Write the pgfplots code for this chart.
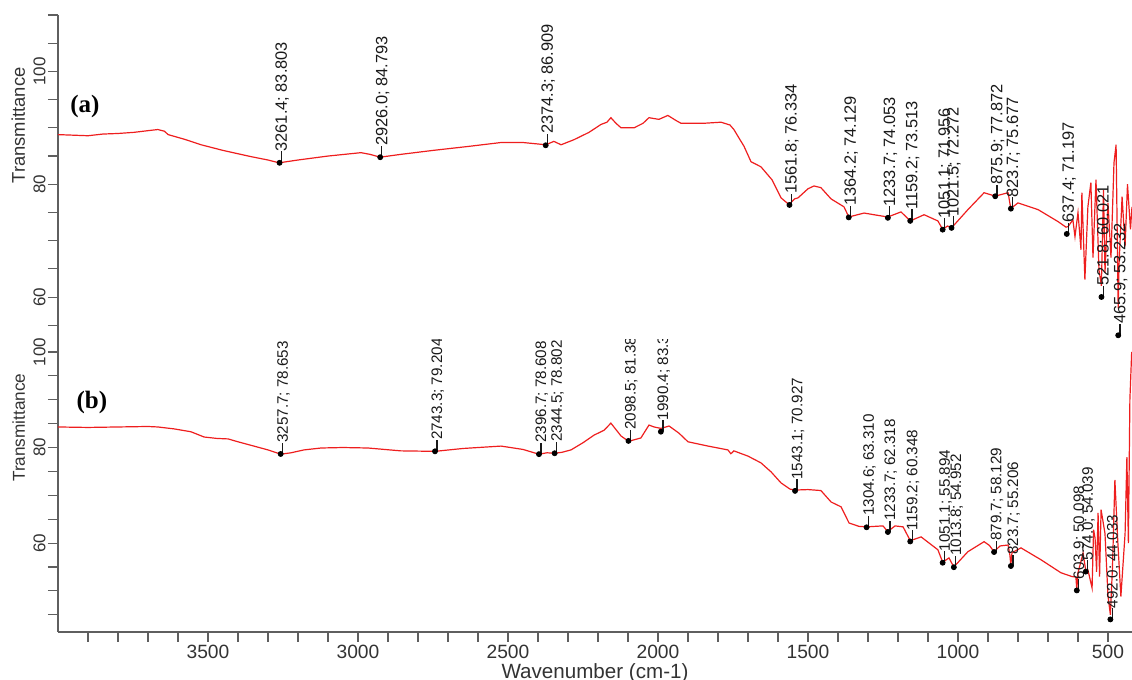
\documentclass[border=0pt]{standalone}
\usepackage{fontspec}
\setmainfont{Liberation Sans}
\newfontfamily\seriffam{Liberation Serif}
\usepackage{pgfplots}
\pgfplotsset{compat=1.18}

\definecolor{spec}{RGB}{238,30,30}
\definecolor{axgray}{RGB}{95,95,95}

\pgfplotsset{
 ftir/.style={
  scale only axis, width=537pt,
  x dir=reverse, xmin=420, xmax=4000,
  axis line style={axgray, line width=0.6pt},
  x axis line style={-}, y axis line style={-},
  tick style={axgray, line width=0.6pt},
  tick align=outside,
  major tick length=5pt, minor tick length=5pt,
  ytick={60,80,100},
  yticklabel style={rotate=90, anchor=south, inner sep=1pt, font=\fontsize{8.5}{9}\selectfont, text=black!80},
  /pgf/number format/assume math mode=true,
  /pgf/number format/1000 sep={},
  ylabel={Transmittance},
 },
 specline/.style={spec, line width=0.6pt, no markers},
 pk/.style={only marks, mark=*, mark size=1.25pt, black},
}
\tikzset{lab/.style={rotate=90, anchor=west, inner sep=0pt,
     font=\fontsize{8.2}{9}\selectfont, text height=0.72em, text depth=0pt, text=black!90},
  labb/.style={lab, font=\fontsize{7.6}{8.5}\selectfont}}
\newcommand{\ld}{\raisebox{0.3em}{\rule{5.5pt}{0.6pt}}}
\newcommand{\pk}[3]{\node[lab] at (axis cs:#1,#2) {\ld #3};}
\newcommand{\pkb}[3]{\node[labb] at (axis cs:#1,#2) {\ld #3};}

\begin{document}
\begin{tikzpicture}
\useasboundingbox (0,0) rectangle (566pt,340pt);

% ---------------- panel (a)
\begin{axis}[ftir, at={(29pt,170pt)}, anchor=south west, height=162.5pt,
  ymin=52.4, ymax=110,
  axis x line=none, axis y line*=left,
  minor ytick={55,65,70,75,85,90,95,105,110},
  ylabel style={at={(ticklabel cs:0.66)}, anchor=near ticklabel, inner sep=3pt,
     font=\fontsize{9.2}{10}\selectfont, text=black!80},
]
\addplot[specline] table {
4000 88.8
3950 88.7
3900 88.6
3850 88.9
3800 89.0
3747 89.2
3700 89.5
3667 89.7
3645 89.4
3633 88.8
3580 88.0
3523 87.0
3450 86.0
3357 84.9
3300 84.3
3263 83.8
3200 84.3
3100 85.0
2990 85.6
2960 85.3
2926 84.8
2857 85.3
2750 86.0
2633 86.7
2523 87.4
2450 87.4
2374 87.0
2347 87.6
2323 87.0
2280 87.9
2230 89.2
2190 90.6
2170 91.0
2157 91.8
2140 90.8
2123 90.0
2080 90.0
2050 90.8
2030 91.8
1997 91.5
1967 92.2
1940 91.3
1923 90.8
1850 90.8
1790 91.0
1760 90.5
1747 89.7
1713 86.7
1690 84.0
1657 83.1
1620 80.8
1590 77.6
1570 76.7
1562 76.5
1545 77.4
1533 77.6
1500 79.2
1480 79.7
1457 79.4
1423 77.4
1380 76.0
1364 74.2
1313 74.9
1280 74.6
1234 74.2
1190 75.1
1159 73.5
1113 74.6
1067 73.5
1051 72.0
1035 72.6
1021 72.3
967 75.5
913 78.5
876 77.9
833 78.5
824 75.7
800 76.7
733 75.5
667 73.4
640 72.4
633 72.5
617 73.7
610 70.7
600 75.0
590 68.4
587 78.5
577 63.1
567 76.0
557 80.3
550 67.0
540 80.8
530 64.8
522 62.0
515 79.0
510 64.3
500 76.7
490 67.0
480 83.8
473 87.0
466 58.0
463 66.0
453 77.8
443 69.0
435 80.0
425 72.0
420 76.0
};
\addplot[pk] table {
3261.4 83.803
2926.0 84.793
2374.3 86.909
1561.8 76.334
1364.2 74.129
1233.7 74.053
1159.2 73.513
1051.1 71.956
1021.5 72.272
875.9 77.872
823.7 75.677
637.4 71.197
521.8 60.021
465.9 53.232
};
\pk{3261.4}{83.803}{3261.4; 83.803}
\pk{2926.0}{84.793}{2926.0; 84.793}
\pk{2374.3}{86.909}{2374.3; 86.909}
\pk{1561.8}{76.334}{1561.8; 76.334}
\pk{1364.2}{74.129}{1364.2; 74.129}
\pk{1233.7}{74.053}{1233.7; 74.053}
\pk{1159.2}{73.513}{1159.2; 73.513}
\pk{1051.1}{71.956}{1051.1; 71.956}
\pk{1021.5}{72.272}{1021.5; 72.272}
\pk{875.9}{77.872}{875.9; 77.872}
\pk{823.7}{75.677}{823.7; 75.677}
\pk{637.4}{71.197}{637.4; 71.197}
\pk{521.8}{60.021}{521.8; 60.021}
\pk{465.9}{53.232}{465.9; 53.232}
\node[font=\seriffam\bfseries\fontsize{12.5}{13}\selectfont] at (axis cs:3910,93.8) {(a)};
\end{axis}

% ---------------- panel (b)
\begin{axis}[ftir, at={(29pt,24pt)}, anchor=south west, height=146pt,
  ymin=41.4, ymax=102.5,
  axis x line*=bottom, axis y line*=left,
  minor ytick={45,50,55,65,70,75,85,90,95},
  xtick={500,1000,1500,2000,2500,3000,3500},
  minor xtick={600,700,800,900,1100,1200,1300,1400,1600,1700,1800,1900,2100,2200,2300,2400,2600,2700,2800,2900,3100,3200,3300,3400,3600,3700,3800,3900},
  xticklabel style={font=\fontsize{9.6}{10}\selectfont, text=black!80, inner sep=1.5pt},
  xlabel={Wavenumber (cm-1)},
  xlabel style={font=\fontsize{10.3}{11}\selectfont, text=black!80, inner sep=0.5pt},
  ylabel style={at={(ticklabel cs:0.70)}, anchor=near ticklabel, inner sep=3pt,
     font=\fontsize{8.6}{9.5}\selectfont, text=black!80},
]
\addplot[specline] table {
4000 84.3
3900 84.2
3800 84.3
3700 84.4
3667 84.3
3613 83.9
3557 83.3
3513 82.2
3470 81.9
3433 81.8
3400 81.2
3347 80.3
3300 79.5
3257 78.6
3223 78.9
3180 79.5
3123 79.9
3050 80.0
2967 79.9
2857 79.3
2743 79.2
2650 79.8
2523 80.3
2450 79.6
2397 78.6
2370 78.9
2344 78.8
2320 79.0
2290 79.5
2250 81.0
2213 82.6
2180 83.6
2157 85.1
2123 82.4
2098 81.3
2057 82.0
2030 84.7
2013 84.3
1990 84.0
1963 84.5
1930 83.0
1900 81.2
1833 80.3
1767 79.5
1757 78.7
1747 79.3
1700 78.2
1657 76.8
1623 74.9
1590 72.6
1560 71.3
1543 71.1
1500 71.2
1457 71.0
1423 68.6
1390 67.6
1363 64.2
1330 63.5
1305 63.4
1250 63.6
1234 62.4
1210 63.6
1183 63.4
1159 60.5
1123 61.3
1067 58.6
1051 56.0
1030 56.9
1014 55.0
967 58.2
913 60.3
895 59.5
880 58.2
860 59.4
833 59.6
827 57.5
824 55.4
820 58.0
790 59.0
723 56.5
657 53.8
620 53.0
607 52.9
604 50.3
600 53.8
583 57.9
574 54.2
567 54.4
553 50.6
548 62.8
543 61.0
538 54.0
533 66.3
528 53.0
523 67.0
510 62.0
500 49.0
492 45.0
485 55.0
477 73.2
467 60.0
457 48.8
443 62.0
437 78.0
432 60.0
427 90.0
421 100.0
};
\addplot[pk] table {
3257.7 78.653
2743.3 79.204
2396.7 78.608
2344.5 78.802
2098.5 81.385
1990.4 83.312
1543.1 70.927
1304.6 63.310
1233.7 62.318
1159.2 60.348
1051.1 55.894
1013.8 54.952
879.7 58.129
823.7 55.206
603.9 50.098
574.0 54.039
492.0 44.033
};
\pkb{3257.7}{78.653}{3257.7; 78.653}
\pkb{2743.3}{79.204}{2743.3; 79.204}
\pkb{2396.7}{78.608}{2396.7; 78.608}
\pkb{2344.5}{78.802}{2344.5; 78.802}
\pkb{2098.5}{81.385}{2098.5; 81.385}
\pkb{1990.4}{83.312}{1990.4; 83.312}
\pkb{1543.1}{70.927}{1543.1; 70.927}
\pkb{1304.6}{63.310}{1304.6; 63.310}
\pkb{1233.7}{62.318}{1233.7; 62.318}
\pkb{1159.2}{60.348}{1159.2; 60.348}
\pkb{1051.1}{55.894}{1051.1; 55.894}
\pkb{1013.8}{54.952}{1013.8; 54.952}
\pkb{879.7}{58.129}{879.7; 58.129}
\pkb{823.7}{55.206}{823.7; 55.206}
\pkb{603.9}{50.098}{603.9; 50.098}
\pkb{574.0}{54.039}{574.0; 54.039}
\pkb{492.0}{44.033}{492.0; 44.033}
\node[font=\seriffam\bfseries\fontsize{12.5}{13}\selectfont] at (axis cs:3887,89.5) {(b)};
\end{axis}
\end{tikzpicture}
\end{document}
